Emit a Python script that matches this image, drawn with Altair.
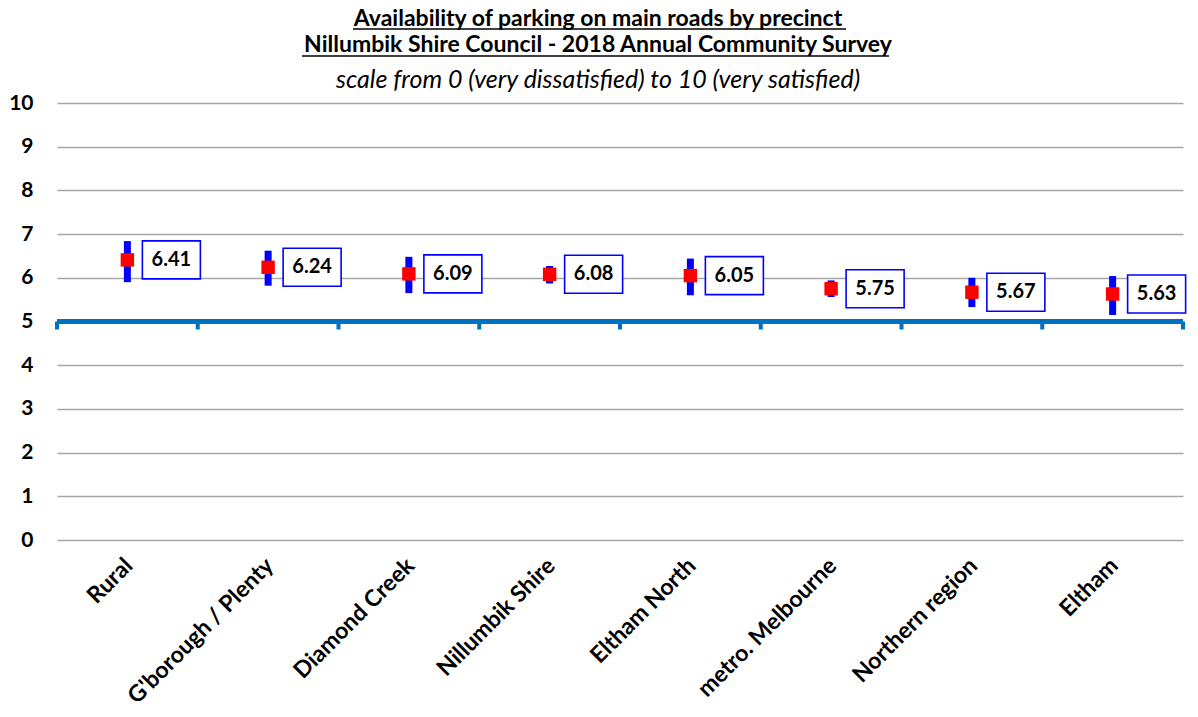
import altair as alt
import pandas as pd

categories = ["Rural", "G'borough / Plenty", "Diamond Creek", "Nillumbik Shire",
              "Eltham North", "metro. Melbourne", "Northern region", "Eltham"]
means = [6.41, 6.24, 6.09, 6.08, 6.05, 5.75, 5.67, 5.63]
upper = [6.84, 6.62, 6.48, 6.27, 6.44, 5.94, 6.00, 6.04]
lower = [5.90, 5.82, 5.65, 5.87, 5.60, 5.56, 5.33, 5.15]
y_ticks = list(range(0, 11))
reference_value = 5
title_line1 = "Availability  of parking on main roads by precinct"
title_line2 = "Nillumbik Shire Council - 2018 Annual Community Survey"
subtitle = "scale from 0 (very dissatisfied) to 10 (very satisfied)"

df = pd.DataFrame({"cat": categories, "mean": means, "upper": upper, "lower": lower})
df["ref"] = reference_value

FONT = "Lato"
W, H = 1126, 437

xscale = alt.Scale(type="band", paddingInner=0, paddingOuter=0, domain=categories)
yscale = alt.Scale(domain=[0, 10], nice=False, zero=True)

x_main = alt.X("cat:N", sort=categories, scale=xscale, title=None,
               axis=alt.Axis(labelAngle=-45, labelFontSize=23, labelFontWeight="bold",
                             labelFont=FONT, labelColor="black", domain=False, ticks=False,
                             labelPadding=14, labelOffset=-6, labelLimit=500,
                             grid=False, labelOverlap=False))
y_main = alt.Y("lower:Q", scale=yscale, title=None,
               axis=alt.Axis(values=y_ticks, labelFontSize=21, labelFontWeight="bold",
                             labelFont=FONT, labelColor="black", domain=False, ticks=False,
                             labelPadding=24, grid=True, gridColor="#a6a6a6", gridWidth=1.5))

base = alt.Chart(df)

errbars = base.mark_rule(color="#0000FF", strokeWidth=7).encode(
    x=x_main, y=y_main, y2="upper:Q")

ref_line = base.mark_rule(color="#0070C0", strokeWidth=4.5).encode(
    y=alt.Y("ref:Q", scale=yscale))

ticks = base.mark_rule(color="#0070C0", strokeWidth=4, y2Offset=8).encode(
    x=alt.X("cat:N", sort=categories, scale=xscale, bandPosition=0),
    y=alt.Y("ref:Q", scale=yscale), y2="ref:Q")

ticks_end = base.transform_filter(alt.datum.cat == categories[-1]).mark_rule(
    color="#0070C0", strokeWidth=4, y2Offset=8).encode(
    x=alt.X("cat:N", sort=categories, scale=xscale, bandPosition=1),
    y=alt.Y("ref:Q", scale=yscale), y2="ref:Q")

points = base.mark_point(shape="square", filled=True, size=180, color="#FF0000", opacity=1).encode(
    x=alt.X("cat:N", sort=categories, scale=xscale), y=alt.Y("mean:Q", scale=yscale))

boxes = base.mark_point(shape="M-1,-0.655L1,-0.655L1,0.655L-1,0.655Z", size=3364,
                        filled=True, fill="white", stroke="#0000FF", strokeWidth=1.6,
                        xOffset=44, opacity=1).encode(
    x=alt.X("cat:N", sort=categories, scale=xscale), y=alt.Y("mean:Q", scale=yscale))

labels = base.mark_text(dx=44, fontSize=20, fontWeight="bold", font=FONT, color="black").encode(
    x=alt.X("cat:N", sort=categories, scale=xscale), y=alt.Y("mean:Q", scale=yscale),
    text=alt.Text("mean:Q", format=".2f"))

# title block drawn as text (with underlines)
one = pd.DataFrame({"a": [0]})
t1 = alt.Chart(one).mark_text(font=FONT, fontSize=23, fontWeight="bold", color="black",
                              align="center", baseline="alphabetic").encode(
    x=alt.value(541), y=alt.value(-77), text=alt.value(title_line1))
t2 = alt.Chart(one).mark_text(font=FONT, fontSize=23, fontWeight="bold", color="black",
                              align="center", baseline="alphabetic").encode(
    x=alt.value(541), y=alt.value(-51), text=alt.value(title_line2))
t3 = alt.Chart(one).mark_text(font=FONT, fontSize=25, fontStyle="italic", color="black",
                              align="center", baseline="alphabetic").encode(
    x=alt.value(541), y=alt.value(-15), text=alt.value(subtitle))
ul1 = alt.Chart(one).mark_rule(color="black", strokeWidth=1.5).encode(
    x=alt.value(296), x2=alt.value(789), y=alt.value(-74))
ul2 = alt.Chart(one).mark_rule(color="black", strokeWidth=1.5).encode(
    x=alt.value(245), x2=alt.value(832), y=alt.value(-47))

chart = alt.layer(errbars, ref_line, ticks, ticks_end, points, boxes, labels,
                  t1, t2, t3, ul1, ul2).properties(
    width=W, height=H,
    autosize=alt.AutoSizeParams(type="none"),
    padding={"left": 49, "top": 95, "right": 7, "bottom": 169},
).configure_view(stroke=None)

chart.save("out.html", embed_options={"renderer": "svg", "actions": False})
